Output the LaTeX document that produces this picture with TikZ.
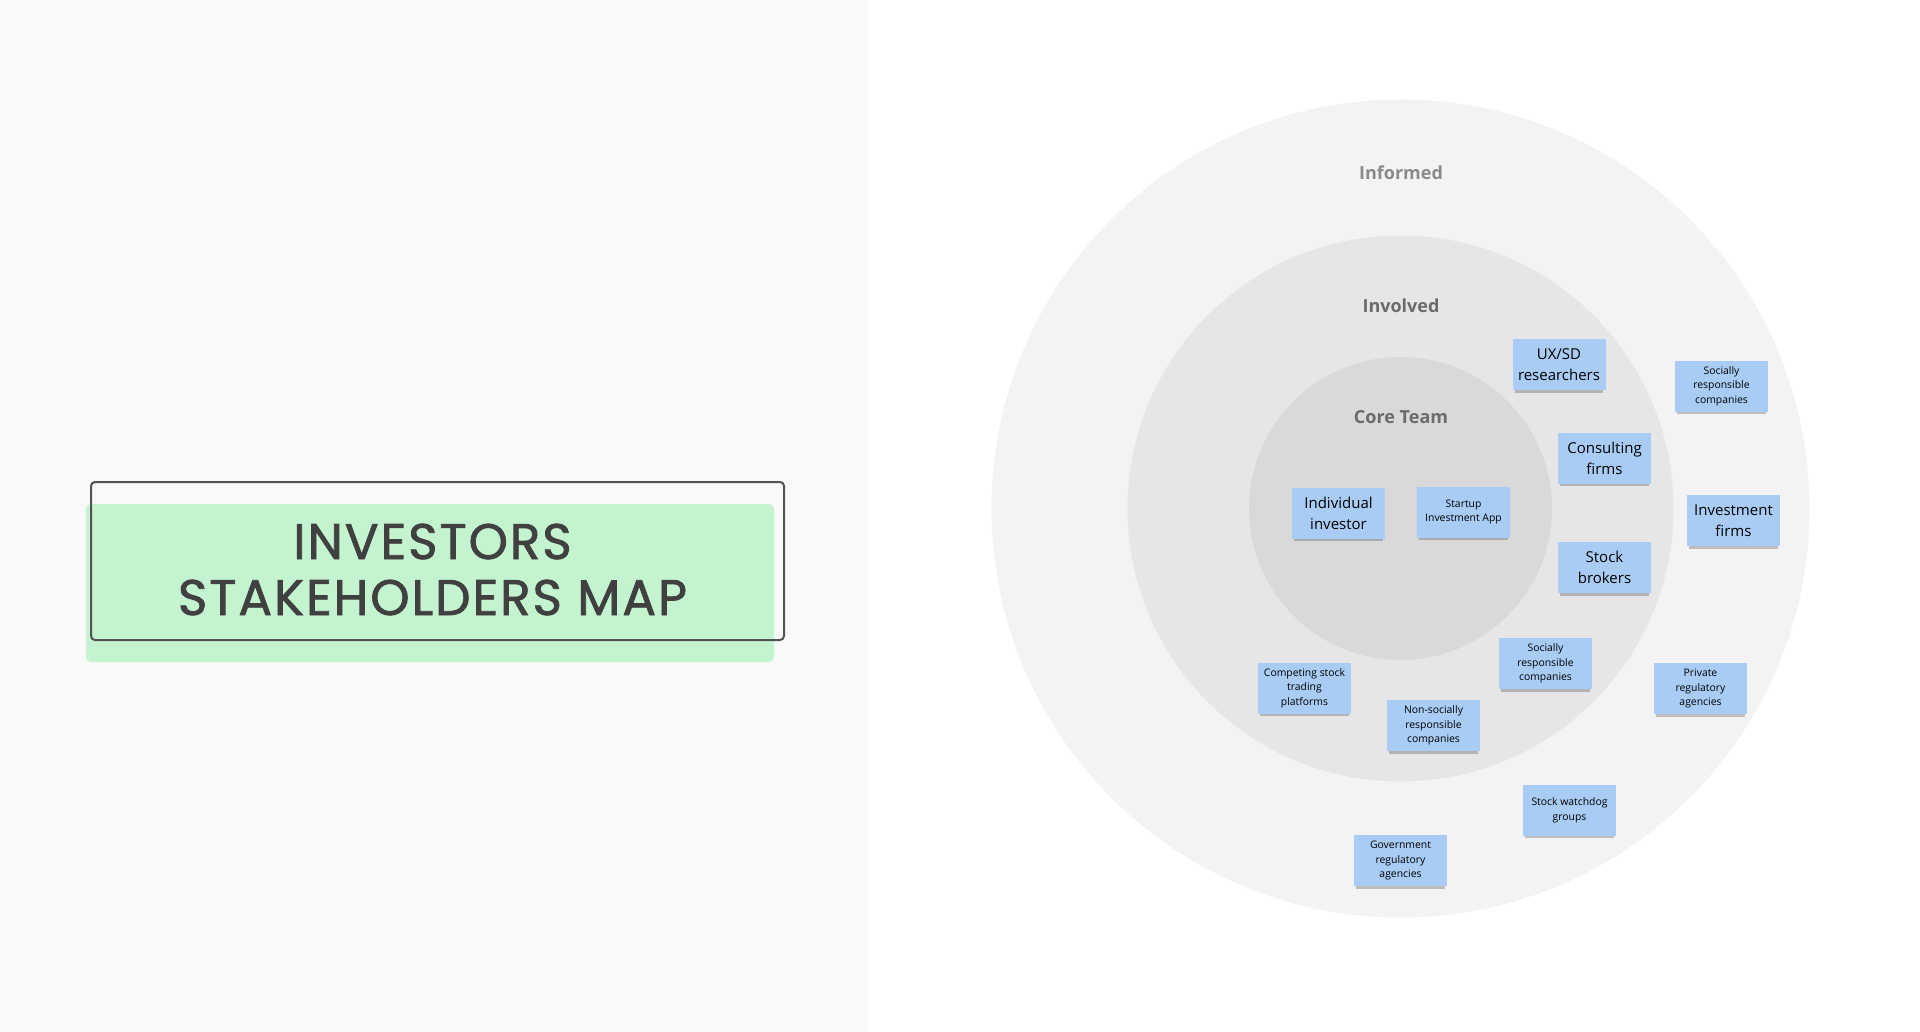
\documentclass[tikz,border=0pt]{standalone}
\usepackage{fontspec}
\setmainfont{Open Sans}
\newfontfamily\titlefont{Poppins}[FakeBold=1.5, LetterSpace=4]
\usetikzlibrary{shadows}
\providecommand*{\pgfmathsetnewmacro}[2]{%
    \newcommand*{#1}{}% Error if already defined
    \pgfmathsetmacro{#1}{#2}%
}

\definecolor{panelgray}{HTML}{F9F9F9}
\definecolor{ringouter}{HTML}{F3F3F3}
\definecolor{ringmiddle}{HTML}{E6E6E6}
\definecolor{ringinner}{HTML}{D9D9D9}
\definecolor{notefill}{HTML}{A9CCF4}
\definecolor{titlegreen}{HTML}{C4F3D0}
\definecolor{inkgray}{HTML}{404040}

\tikzset{
    note/.style = {rectangle, fill = notefill, inner sep = 1pt,
                   minimum width = 93pt, minimum height = 51pt,
                   align = center, text = black,
                   drop shadow = {shadow xshift = 0pt, shadow yshift = -4pt,
                                  shadow scale = 0.95, opacity = 0.22, fill = black}},
    bignote/.style   = {note, font = \fontsize{15}{21}\selectfont},
    smallnote/.style = {note, font = \fontsize{10.4}{14.6}\selectfont},
    ringlabel/.style = {font = \bfseries\fontsize{18}{22}\selectfont, text = #1},
    titleline/.style = {anchor = base, text = inkgray,
                        font = \titlefont\fontsize{50}{56}\selectfont},
}

\begin{document}
\begin{tikzpicture}[x = 1pt, y = -1pt]

\useasboundingbox (0,0) rectangle (1920,1032);
\fill[white] (0,0) rectangle (1920,1032);
\fill[panelgray] (0,0) rectangle (868,1032);

% title card
\fill[titlegreen, rounded corners = 5pt] (86,504) rectangle (774,662);
\draw[inkgray!90, line width = 2pt, rounded corners = 4pt] (91,482) rectangle (784,640);
\node[titleline] (title1) at (432.5,559) {INVESTORS};
\node[titleline] (title2) at (432.5,615) {STAKEHOLDERS MAP};

% rings
\pgfmathsetnewmacro{\cx}{1400.5}
\pgfmathsetnewmacro{\cy}{508.5}
\coordinate (O) at (\cx,\cy);

\foreach \RADIUS/\COLOR in {409/ringouter, 273/ringmiddle, 151.5/ringinner}{
    \fill[\COLOR] (O) circle[radius = \RADIUS pt];
    };

\node[ringlabel = black!46] (informed) at (1401,173) {Informed};
\node[ringlabel = black!58] (involved) at (1401,306) {Involved};
\node[ringlabel = black!58] (core)     at (1401,417) {Core Team};

% sticky notes
\foreach \NAME/\X/\Y/\LABEL/\STYLE in {
        ux/1559/364.5/{UX/SD\\researchers}/bignote,
        sroutside/1721.5/386/{Socially\\responsible\\companies}/smallnote,
        consulting/1604.5/458/{Consulting\\firms}/bignote,
        investfirms/1733.5/520.5/{Investment\\firms}/bignote,
        brokers/1604.5/567.5/{Stock\\brokers}/bignote,
        individual/1338.5/513/{Individual\\investor}/bignote,
        startup/1463.5/512/{Startup\\Investment App}/smallnote,
        competing/1304.5/688/{Competing stock\\trading\\platforms}/smallnote,
        nonsr/1433.5/725.5/{Non-socially\\responsible\\companies}/smallnote,
        srinside/1545.5/663.5/{Socially\\responsible\\companies}/smallnote,
        private/1700.5/688.5/{Private\\regulatory\\agencies}/smallnote,
        watchdog/1569.5/810/{Stock watchdog\\groups}/smallnote,
        government/1400.5/860.5/{Government\\regulatory\\agencies}/smallnote}{
    \node[\STYLE] (\NAME) at (\X,\Y) {\LABEL};
    };

\end{tikzpicture}
\end{document}
